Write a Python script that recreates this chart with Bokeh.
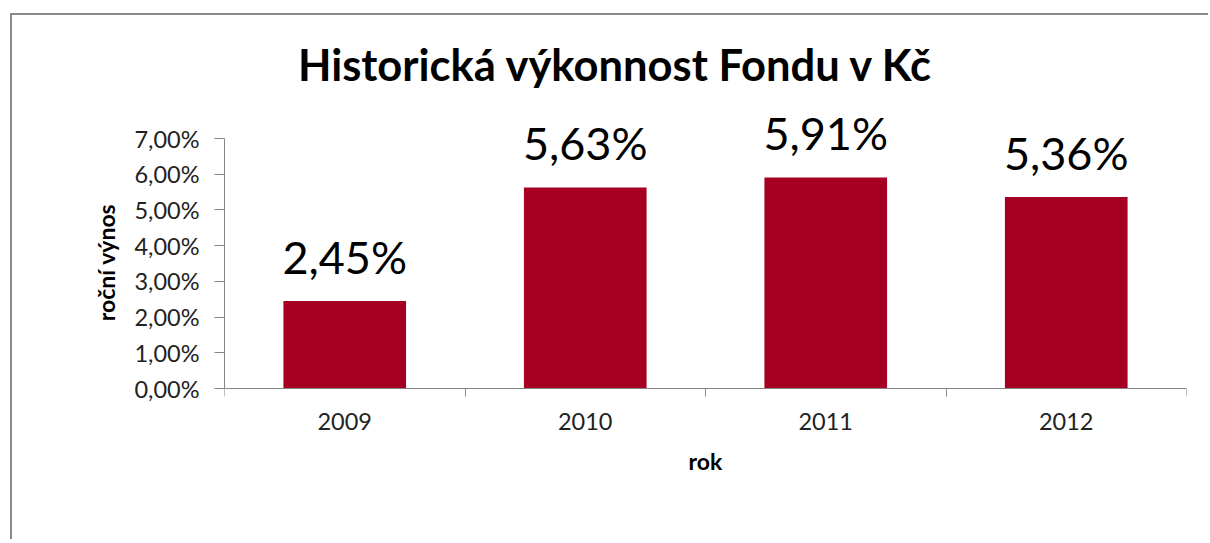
from bokeh.plotting import figure
from bokeh.models import ColumnDataSource, Range1d, FixedTicker, Label
from bokeh.core.properties import value
from bokeh.embed import file_html
from bokeh.resources import INLINE

# ---- data ----
years = ["2009", "2010", "2011", "2012"]
returns = [2.45, 5.63, 5.91, 5.36]          # % p.a.
value_labels = ["2,45%", "5,63%", "5,91%", "5,36%"]
y_ticks = [0, 1, 2, 3, 4, 5, 6, 7]
y_tick_labels = ["0,00%", "1,00%", "2,00%", "3,00%", "4,00%", "5,00%", "6,00%", "7,00%"]
title_text = "Historická výkonnost Fondu v Kč"
x_title = "rok"
y_title = "roční výnos"

FONT = "Lato"
BAR = "#A50021"
AXIS = "#868686"

n = len(years)
xs = [i + 0.5 for i in range(n)]
src = ColumnDataSource(dict(x=xs, top=returns, label=value_labels))

p = figure(width=1198, height=526, output_backend="svg", toolbar_location=None,
           x_range=Range1d(0, n), y_range=Range1d(-3.388, 10.444),
           min_border_left=212, min_border_right=24, min_border_top=0,
           min_border_bottom=32)
p.styles = {"margin-left": "10px", "margin-top": "13px",
            "border-left": "2px solid #8a8a8a", "border-top": "2px solid #8a8a8a"}
p.outline_line_color = None
p.xgrid.visible = False
p.ygrid.visible = False
p.background_fill_color = "white"
p.border_fill_color = "white"

p.vbar(x="x", top="top", width=0.51, bottom=0, source=src,
       fill_color=BAR, line_color=None)

p.text(x="x", y="top", text="label", source=src, y_offset=-44,
       text_align="center", text_baseline="alphabetic",
       text_font=value(FONT), text_font_size="45px", text_color="#000000")

p.add_layout(Label(x=1.628, y=9.1, text=title_text, text_align="center",
                   text_baseline="alphabetic", text_font=FONT,
                   text_font_size="43.5px", text_font_style="bold",
                   text_color="#000000"))

# y axis
ya = p.yaxis[0]
ya.bounds = (0, 7)
ya.ticker = FixedTicker(ticks=y_ticks, minor_ticks=[])
ya.major_label_overrides = {t: l for t, l in zip(y_ticks, y_tick_labels)}
ya.axis_line_color = AXIS
ya.major_tick_line_color = AXIS
ya.major_tick_out = 10
ya.major_tick_in = 0
ya.minor_tick_line_color = None
ya.major_label_standoff = 15
ya.major_label_text_font = FONT
ya.major_label_text_font_size = "23.5px"
ya.major_label_text_color = "#222222"
ya.axis_label = y_title
ya.axis_label_text_font = FONT
ya.axis_label_text_font_size = "23px"
ya.axis_label_text_font_style = "bold"
ya.axis_label_text_color = "#000000"
ya.axis_label_standoff = 11

# x axis (sits on the 0 % line)
xa = p.xaxis[0]
xa.fixed_location = 0
xa.ticker = FixedTicker(ticks=xs, minor_ticks=list(range(n + 1)))
xa.major_label_overrides = {x: y for x, y in zip(xs, years)}
xa.axis_line_color = AXIS
xa.major_tick_line_color = None
xa.major_tick_out = 0
xa.major_tick_in = 0
xa.minor_tick_line_color = AXIS
xa.minor_tick_out = 8
xa.minor_tick_in = 0
xa.major_label_standoff = 16
xa.major_label_text_font = FONT
xa.major_label_text_font_size = "23.5px"
xa.major_label_text_color = "#222222"
xa.axis_label = x_title
xa.axis_label_text_font = FONT
xa.axis_label_text_font_size = "23px"
xa.axis_label_text_font_style = "bold"
xa.axis_label_text_color = "#000000"
xa.axis_label_standoff = 14

open("out.html", "w").write(file_html(p, INLINE))
